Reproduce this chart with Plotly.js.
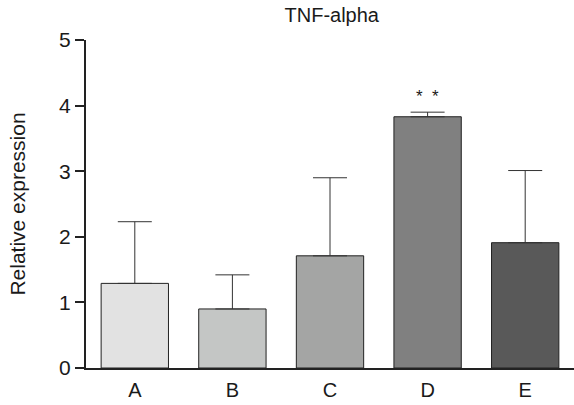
<!DOCTYPE html>
<html>
<head>
<meta charset="utf-8">
<script src="https://cdn.plot.ly/plotly-3.0.1.min.js"></script>
<style>html,body{margin:0;padding:0;background:#fff;}#chart{width:574px;height:405px;}</style>
</head>
<body>
<div id="chart"></div>
<script>
const categories = ["A", "B", "C", "D", "E"];
const values = [1.29, 0.90, 1.71, 3.83, 1.91];
const errorsUp = [0.94, 0.52, 1.19, 0.07, 1.10];
const barColors = ["#e2e2e2", "#c4c6c5", "#a4a5a4", "#808080", "#595959"];
const yTicks = [0, 1, 2, 3, 4, 5];
const significance = {category: "D", label: "*  *"};

const trace = {
  type: "bar",
  x: categories,
  y: values,
  width: 0.69,
  marker: {color: barColors, line: {color: "#222222", width: 1}},
  error_y: {
    type: "data",
    symmetric: false,
    array: errorsUp,
    arrayminus: categories.map(() => 0),
    color: "#333333",
    thickness: 1,
    width: 17
  },
  hoverinfo: "none"
};

const sigIdx = categories.indexOf(significance.category);

const layout = {
  width: 574,
  height: 405,
  margin: {l: 86, r: 0, t: 40, b: 37},
  paper_bgcolor: "#ffffff",
  plot_bgcolor: "#ffffff",
  showlegend: false,
  font: {family: "Liberation Sans, Arial, sans-serif", color: "#1a1a1a"},
  title: {
    text: "TNF-alpha",
    font: {size: 20, color: "#1a1a1a"},
    x: 0.578, xanchor: "center",
    y: 0.962, yanchor: "middle"
  },
  xaxis: {
    type: "category",
    range: [-0.5, 4.5],
    showline: true,
    linecolor: "#222222",
    linewidth: 2,
    ticks: "",
    showgrid: false,
    zeroline: false,
    tickfont: {size: 20, color: "#1a1a1a"},
    ticklabelstandoff: 3
  },
  yaxis: {
    range: [0, 5],
    tickvals: yTicks,
    ticktext: yTicks.map(String),
    showline: true,
    linecolor: "#222222",
    linewidth: 2,
    ticks: "outside",
    ticklen: 9,
    tickwidth: 2,
    tickcolor: "#222222",
    showgrid: false,
    zeroline: false,
    tickfont: {size: 21, color: "#1a1a1a"},
    title: {text: "Relative expression", font: {size: 21, color: "#1a1a1a"}, standoff: 28}
  },
  annotations: [{
    x: categories[sigIdx],
    y: values[sigIdx] + errorsUp[sigIdx],
    xref: "x", yref: "y",
    text: significance.label,
    showarrow: false,
    yanchor: "bottom",
    yshift: 4,
    font: {size: 17, color: "#1a1a1a"}
  }]
};

Plotly.newPlot("chart", [trace], layout, {staticPlot: true, displayModeBar: false});
</script>
</body>
</html>
